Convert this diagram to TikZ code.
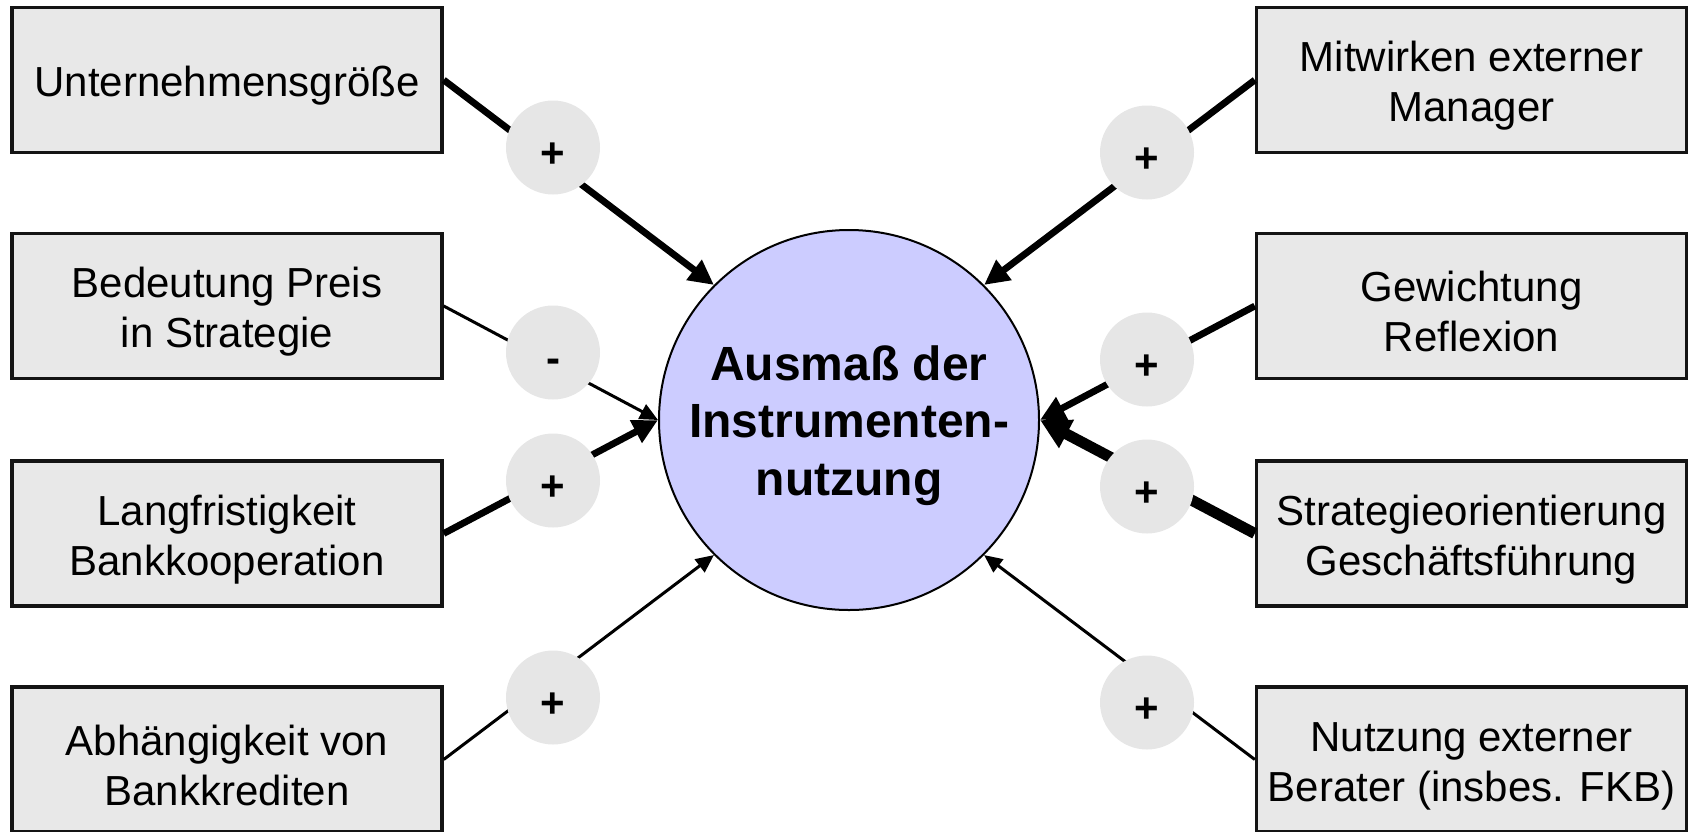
\documentclass[tikz,border=0pt]{standalone}
\usepackage{fontspec}
\setmainfont{Liberation Sans}
\usetikzlibrary{arrows.meta}
\definecolor{boxgray}{RGB}{232,232,232}
\definecolor{signgray}{RGB}{230,230,230}
\definecolor{hubfill}{RGB}{204,204,255}
% taller first line, so that the text block sits a little lower
\newcommand{\boxlift}{\rule{0pt}{21pt}}
\newcommand{\hublift}{\rule{0pt}{23pt}}

\begin{document}
\begin{tikzpicture}[x=0.5pt,y=-0.5pt,
  factor/.style={draw=black!92, line width=1.7pt, fill=boxgray,
    minimum width=215pt, minimum height=72.5pt, inner sep=0pt, align=center,
    font=\fontsize{21}{25}\selectfont},
  hubnode/.style={circle, draw=black, line width=1pt, fill=hubfill,
    minimum size=190pt, inner sep=0pt, align=center,
    font=\fontsize{24}{28.75}\selectfont\bfseries},
  sign/.style={circle, fill=signgray, minimum size=47pt, inner sep=0pt,
    text height=20pt, text depth=0pt, font=\fontsize{21}{25}\selectfont\bfseries},
  weaklink/.style={line width=1.5pt, -{Triangle[length=9pt,width=8pt]}},
  stronglink/.style={line width=3.4pt, -{Triangle[length=12.5pt,width=12pt]}},
  heavylink/.style={line width=5.5pt, -{Triangle[length=15pt,width=15pt]}},
]
\useasboundingbox (0,0) rectangle (1690,831);
\clip (0,0) rectangle (1690,831);

% influencing factors, left column
\node[factor] (l1) at (227,80)    {\boxlift Unternehmensgröße};
\node[factor] (l2) at (227,306)   {\boxlift Bedeutung Preis\\in Strategie};
\node[factor] (l3) at (227,533.5) {\boxlift Langfristigkeit\\Bankkooperation};
\node[factor] (l4) at (227,759.5) {\boxlift Abhängigkeit von\\Bankkrediten};

% influencing factors, right column
\node[factor] (r1) at (1471.5,80)    {\boxlift Mitwirken externer\\Manager};
\node[factor] (r2) at (1471.5,306)   {\boxlift Gewichtung\\Reflexion};
\node[factor] (r3) at (1471.5,533.5) {\boxlift Strategieorientierung\\Geschäftsführung};
\node[factor] (r4) at (1471.5,759.5) {\boxlift Nutzung externer\\Berater (insbes. FKB)};

% central construct
\node[hubnode] (hub) at (849,420) {\hublift Ausmaß der\\Instrumenten-\\nutzung};

% effects
\draw[stronglink] (l1.east) -- (hub.135);
\draw[weaklink]   (l2.east) -- (hub.180);
\draw[stronglink] (l3.east) -- (hub.180);
\draw[weaklink]   (l4.east) -- (hub.225);
\draw[stronglink] (r1.west) -- (hub.45);
\draw[stronglink] (r2.west) -- (hub.0);
\draw[heavylink]  (r3.west) -- (hub.0);
\draw[weaklink]   (r4.west) -- (hub.315);

% sign of each effect
\node[sign] (s1) at (553,147.5) {+};
\node[sign] (s2) at (553,352.5) {-};
\node[sign] (s3) at (553,480.5) {+};
\node[sign] (s4) at (553,697.5) {+};
\node[sign] (s5) at (1147,152.5) {+};
\node[sign] (s6) at (1147,359.5) {+};
\node[sign] (s7) at (1147,486.5) {+};
\node[sign] (s8) at (1147,702.5) {+};
\end{tikzpicture}
\end{document}
